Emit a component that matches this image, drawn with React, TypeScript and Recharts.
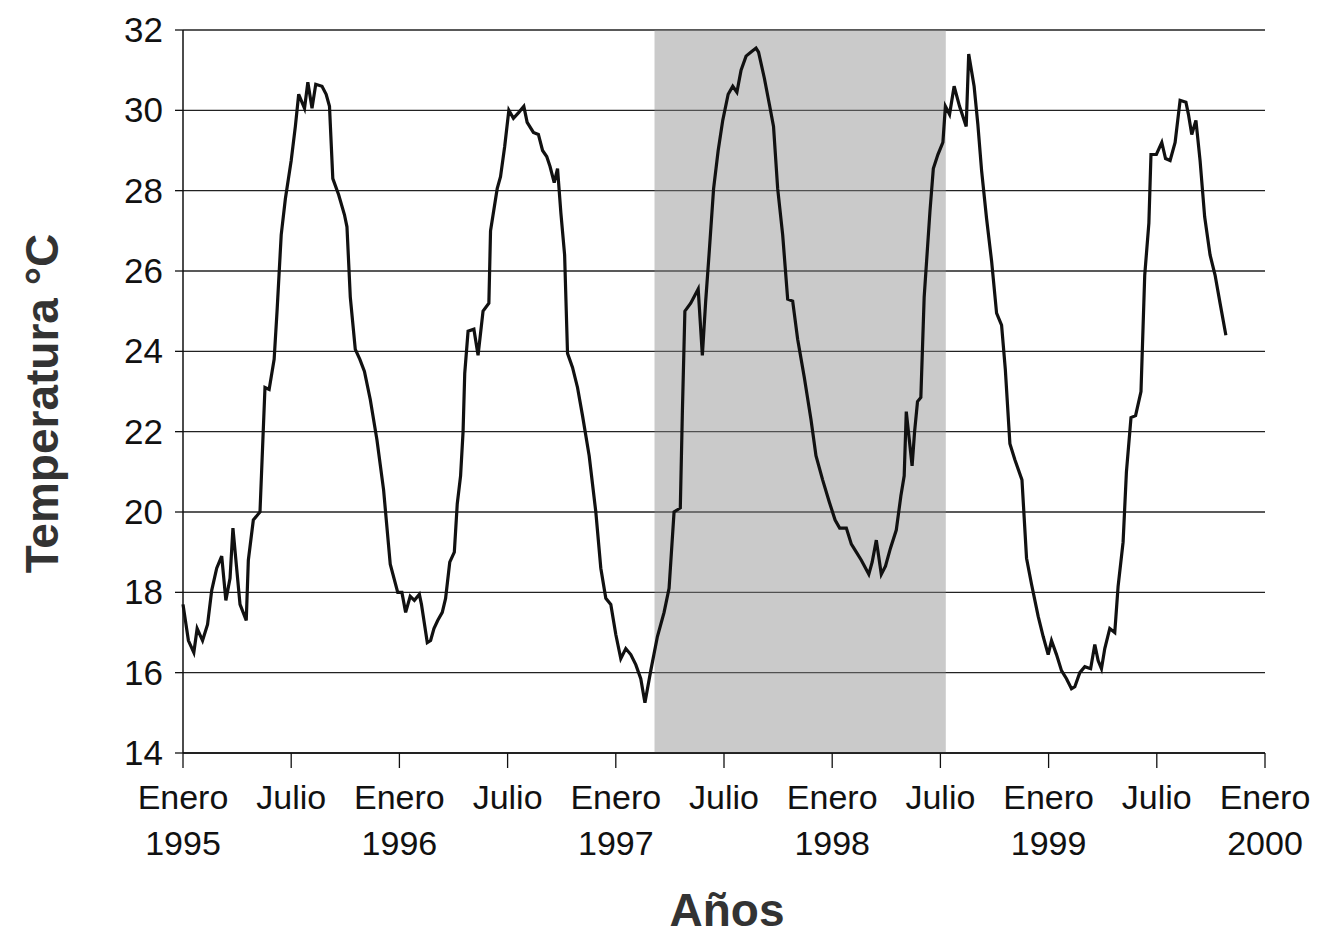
import React from 'react';
import {
  LineChart,
  Line,
  XAxis,
  YAxis,
  CartesianGrid,
  ReferenceArea,
} from 'recharts';

// weeks counted from Enero 1995 (52 per year)
const weeks = [
  0, 1.3, 2.6, 3.4, 4.7, 5.9, 6.9, 8.1, 9.3, 10.3, 11.3, 12.0, 12.8, 13.7, 15.2, 15.7, 16.9, 18.5,
  19.7, 20.7, 21.9, 22.6, 23.6, 24.6, 26.0, 27.0, 27.8, 29.2, 30.0, 31.0, 31.9, 33.4, 34.4, 35.2,
  36.0, 37.4, 38.8, 39.4, 40.2, 41.4, 42.5, 43.6, 45.0, 46.6, 48.2, 49.8, 51.6, 52.6, 53.5, 54.6,
  55.6, 56.8, 57.3, 58.7, 59.5, 60.3, 61.2, 62.3, 63.1, 64.1, 65.2, 65.9, 66.7, 67.3, 67.7, 68.5,
  69.9, 70.9, 72.1, 73.5, 73.9, 75.5, 76.3, 77.3, 78.3, 79.4, 80.7, 81.9, 82.7, 84.2, 85.4, 86.4,
  87.4, 88.2, 89.2, 90.0, 90.8, 91.7, 92.4, 93.6, 94.8, 96.0, 97.6, 99.2, 100.4, 101.6, 102.8,
  104.0, 105.2, 106.4, 107.6, 108.8, 110.0, 111.0, 112.4, 114.0, 115.6, 116.8, 118.0, 119.5,
  120.0, 120.6, 122.0, 123.8, 124.8, 125.6, 126.4, 127.5, 128.6, 129.7, 131.0, 132.1, 133.1,
  134.1, 135.3, 136.5, 137.7, 138.3, 139.7, 140.9, 141.9, 142.9, 144.1, 145.3, 146.5, 147.7,
  149.3, 150.9, 152.1, 153.7, 155.3, 156.7, 157.8, 159.4, 160.6, 161.8, 163.0, 164.8, 165.6,
  166.6, 167.8, 168.8, 170.0, 171.4, 172.5, 173.3, 173.8, 175.2, 175.8, 176.5, 177.3, 178.1,
  179.5, 180.3, 181.4, 182.6, 183.2, 184.2, 185.3, 186.6, 188.2, 188.8, 190.1, 191.0, 191.9,
  193.1, 194.3, 195.5, 196.7, 197.6, 198.7, 199.9, 201.6, 202.7, 203.9, 205.5, 206.7, 207.9,
  208.7, 209.9, 211.1, 212.3, 213.5, 214.3, 215.5, 216.7, 218.1, 219.1, 219.9, 220.7, 221.5,
  222.7, 223.9, 224.7, 225.9, 226.7, 227.8, 228.9, 230.2, 231.1, 232.1, 232.6, 233.9, 235.2,
  236.1, 237.2, 238.4, 239.6, 241.0, 241.6, 242.4, 243.4, 244.4, 245.5, 246.8, 248.0, 249.2,
  250.6,
];

const temps = [
  17.7, 16.8, 16.5, 17.1, 16.8, 17.2, 18.05, 18.6, 18.9, 17.8, 18.35, 19.6, 18.7, 17.7, 17.3, 18.8,
  19.8, 20.0, 23.1, 23.05, 23.8, 25.0, 26.9, 27.8, 28.75, 29.6, 30.4, 30.05, 30.7, 30.05, 30.65,
  30.6, 30.4, 30.1, 28.3, 27.9, 27.4, 27.1, 25.35, 24.05, 23.8, 23.5, 22.8, 21.8, 20.55, 18.7,
  18.0, 18.0, 17.5, 17.9, 17.8, 17.95, 17.7, 16.75, 16.8, 17.1, 17.3, 17.5, 17.85, 18.75, 19.0,
  20.2, 20.9, 22.0, 23.45, 24.5, 24.55, 23.9, 25.0, 25.2, 27.0, 28.05, 28.35, 29.1, 30.0, 29.8,
  29.95, 30.1, 29.7, 29.45, 29.4, 29.0, 28.85, 28.6, 28.2, 28.55, 27.45, 26.4, 23.95, 23.6, 23.1,
  22.4, 21.4, 20.0, 18.6, 17.85, 17.7, 16.95, 16.35, 16.6, 16.45, 16.2, 15.85, 15.25, 16.05,
  16.9, 17.5, 18.1, 20.0, 20.1, 22.5, 25.0, 25.2, 25.55, 23.9, 25.25, 26.4, 28.05, 29.0, 29.75,
  30.4, 30.6, 30.45, 31.0, 31.35, 31.45, 31.55, 31.45, 30.8, 30.15, 29.6, 28.05, 26.9, 25.3,
  25.25, 24.3, 23.35, 22.3, 21.4, 20.8, 20.25, 19.8, 19.6, 19.6, 19.2, 19.0, 18.8, 18.45, 18.75,
  19.3, 18.45, 18.65, 19.1, 19.55, 20.4, 20.9, 22.5, 21.15, 22.0, 22.75, 22.85, 25.35, 27.5,
  28.55, 28.9, 29.2, 30.1, 29.9, 30.6, 30.1, 29.6, 31.4, 30.6, 29.65, 28.5, 27.3, 26.25, 24.95,
  24.65, 23.55, 21.7, 21.3, 20.8, 18.85, 18.2, 17.4, 16.9, 16.45, 16.8, 16.45, 16.05, 15.85,
  15.6, 15.65, 16.0, 16.15, 16.1, 16.7, 16.3, 16.1, 16.6, 17.1, 17.0, 18.15, 19.25, 21.0, 22.35,
  22.4, 23.0, 25.9, 27.2, 28.9, 28.9, 29.2, 28.8, 28.75, 29.2, 30.25, 30.2, 29.9, 29.4, 29.75,
  28.75, 27.35, 26.4, 25.9, 25.2, 24.4,
];

const xTicks = [0, 26, 52, 78, 104, 130, 156, 182, 208, 234, 260];
const xTickMonths = ['Enero', 'Julio', 'Enero', 'Julio', 'Enero', 'Julio', 'Enero', 'Julio', 'Enero', 'Julio', 'Enero'];
const xTickYears = ['1995', '', '1996', '', '1997', '', '1998', '', '1999', '', '2000'];
const yTicks = [14, 16, 18, 20, 22, 24, 26, 28, 30, 32];

// shaded period (weeks)
const shadeStart = 113.3;
const shadeEnd = 183.3;

const data = weeks.map((w, i) => ({ week: w, temp: temps[i] }));

const FONT = '"Liberation Sans", Arial, Helvetica, sans-serif';

const XTick = (props: any) => {
  const { x, y, payload } = props;
  const i = xTicks.indexOf(payload.value);
  return (
    <g>
      <text x={x} y={y + 41} textAnchor="middle" fontFamily={FONT} fontSize={34} fill="#111">
        {xTickMonths[i]}
      </text>
      {xTickYears[i] && (
        <text x={x} y={y + 87} textAnchor="middle" fontFamily={FONT} fontSize={34} fill="#111">
          {xTickYears[i]}
        </text>
      )}
    </g>
  );
};

const YTick = (props: any) => {
  const { x, y, payload } = props;
  return (
    <text x={x} y={y + 12} textAnchor="end" fontFamily={FONT} fontSize={35} fill="#111">
      {payload.value}
    </text>
  );
};

export default function App() {
  return (
    <div style={{ width: 1316, height: 935, background: '#fff' }}>
      <LineChart
        width={1316}
        height={935}
        data={data}
        margin={{ top: 22, right: 59, left: 0, bottom: 0 }}
      >
        <CartesianGrid vertical={false} stroke="#222" strokeWidth={1.3} />
        <ReferenceArea
          x1={shadeStart}
          x2={shadeEnd}
          y1={14}
          y2={32}
          fill="#8a8a8a"
          fillOpacity={0.45}
          stroke="none"
          ifOverflow="hidden"
        />
        <XAxis
          dataKey="week"
          type="number"
          domain={[0, 260]}
          ticks={xTicks}
          interval={0}
          height={190}
          tickSize={15}
          tickMargin={0}
          axisLine={{ stroke: '#111', strokeWidth: 1.5 }}
          tickLine={{ stroke: '#111', strokeWidth: 1.3 }}
          tick={<XTick />}
          label={{
            content: (p: any) => {
              const vb = p.viewBox || { x: 175, y: 745, width: 1082 };
              return (
                <text
                  x={vb.x + vb.width / 2 + 3}
                  y={vb.y + 173}
                  textAnchor="middle"
                  fontFamily={FONT}
                  fontWeight="bold"
                  fontSize={46}
                  fill="#333"
                >
                  Años
                </text>
              );
            },
          }}
        />
        <YAxis
          type="number"
          domain={[14, 32]}
          ticks={yTicks}
          interval={0}
          width={175}
          tickSize={8}
          tickMargin={12}
          axisLine={{ stroke: '#111', strokeWidth: 1.5 }}
          tickLine={{ stroke: '#111', strokeWidth: 1.3 }}
          tick={<YTick />}
          label={{
            content: (p: any) => {
              const vb = p.viewBox || { x: 0, y: 22, height: 723 };
              const cy = vb.y + vb.height / 2 + 12;
              return (
                <text
                  x={50}
                  y={cy}
                  transform={`rotate(-90, 50, ${cy})`}
                  textAnchor="middle"
                  fontFamily={FONT}
                  fontWeight="bold"
                  fontSize={46}
                  fill="#333"
                >
                  Temperatura °C
                </text>
              );
            },
          }}
        />
        <Line
          type="linear"
          dataKey="temp"
          stroke="#111"
          strokeWidth={3.2}
          dot={false}
          isAnimationActive={false}
        />
      </LineChart>
    </div>
  );
}
